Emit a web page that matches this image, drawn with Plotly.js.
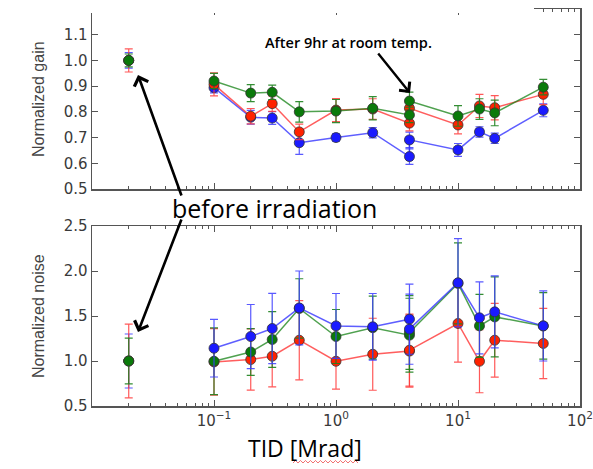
<!DOCTYPE html>
<html>
<head>
<meta charset="utf-8">
<script src="https://cdn.plot.ly/plotly-3.0.1.min.js"></script>
<style>
  html, body { margin: 0; padding: 0; background: #fff; }
  #chart { width: 593px; height: 469px; }
</style>
</head>
<body>
<div id="chart"></div>
<script>
// ---- data ----
const beforeDose = [0.02];
const dose = [0.1, 0.2, 0.3, 0.5, 1, 2, 4, 4, 10, 15, 20, 50];

const gainBeforeBlue = [1.0], gainBeforeRed = [1.0], gainBeforeGreen = [1.0];
const gainBeforeBlueErr = [0.03], gainBeforeRedErr = [0.045], gainBeforeGreenErr = [0.025];

const gainBlue  = [0.894, 0.779, 0.776, 0.680, 0.700, 0.719, 0.626, 0.691, 0.652, 0.722, 0.697, 0.806];
const gainRed   = [0.907, 0.783, 0.832, 0.722, 0.807, 0.811, 0.756, 0.814, 0.749, 0.823, 0.816, 0.868];
const gainGreen = [0.920, 0.873, 0.876, 0.800, 0.803, 0.814, 0.788, 0.842, 0.784, 0.811, 0.796, 0.896];
const gainBlueErr  = [0.020, 0.027, 0.025, 0.045, 0.015, 0.020, 0.030, 0.030, 0.025, 0.020, 0.020, 0.025];
const gainRedErr   = [0.045, 0.030, 0.030, 0.030, 0.045, 0.040, 0.030, 0.030, 0.035, 0.045, 0.047, 0.040];
const gainGreenErr = [0.030, 0.033, 0.028, 0.040, 0.045, 0.045, 0.030, 0.035, 0.040, 0.040, 0.050, 0.030];

const noiseBeforeBlue = [1.0], noiseBeforeRed = [1.0], noiseBeforeGreen = [1.0];
const noiseBeforeBlueErr = [0.30], noiseBeforeRedErr = [0.41], noiseBeforeGreenErr = [0.255];

const noiseBlue  = [1.142, 1.272, 1.361, 1.590, 1.390, 1.380, 1.465, 1.354, 1.869, 1.480, 1.546, 1.390];
const noiseRed   = [0.990, 1.016, 1.053, 1.231, 0.997, 1.075, 1.110, 1.120, 1.417, 0.997, 1.231, 1.195];
const noiseGreen = [0.997, 1.100, 1.239, 1.584, 1.272, 1.370, 1.287, 1.317, 1.862, 1.390, 1.490, 1.390];
const noiseBlueErr  = [0.32, 0.356, 0.39, 0.41, 0.36, 0.37, 0.39, 0.39, 0.49, 0.40, 0.40, 0.39];
const noiseRedErr   = [0.37, 0.34, 0.34, 0.44, 0.31, 0.40, 0.40, 0.40, 0.43, 0.35, 0.41, 0.39];
const noiseGreenErr = [0.37, 0.26, 0.31, 0.33, 0.30, 0.35, 0.41, 0.41, 0.45, 0.35, 0.445, 0.37];

const xTickVals = [0.1, 1, 10, 100];
const xTickText = ['10<sup>−1</sup>', '10<sup>0</sup>', '10<sup>1</sup>', '10<sup>2</sup>'];
const gainTickVals = [0.5, 0.6, 0.7, 0.8, 0.9, 1.0, 1.1];
const noiseTickVals = [0.5, 1.0, 1.5, 2.0, 2.5];

// ---- styling ----
const colors = {
  blue:  {m: '#1a1aff', l: 'rgba(40,40,255,0.75)', e: 'rgba(60,60,255,0.85)'},
  red:   {m: '#ff2200', l: 'rgba(255,40,40,0.75)', e: 'rgba(255,60,60,0.85)'},
  green: {m: '#0a7a0a', l: 'rgba(20,130,20,0.75)', e: 'rgba(30,130,30,0.9)'}
};

function series(x, y, err, c, xa, ya, withLine) {
  return {
    x: x, y: y, xaxis: xa, yaxis: ya, type: 'scatter',
    mode: withLine ? 'lines+markers' : 'markers',
    line: {color: c.l, width: 1.5},
    marker: {color: c.m, size: 10, line: {color: '#333', width: 0.8}},
    error_y: {type: 'data', array: err, visible: true, color: c.e, thickness: 1.2, width: 4},
    showlegend: false, hoverinfo: 'skip'
  };
}

const traces = [
  // gain panel
  series(dose, gainBlue, gainBlueErr, colors.blue, 'x', 'y', true),
  series(dose, gainRed, gainRedErr, colors.red, 'x', 'y', true),
  series(dose, gainGreen, gainGreenErr, colors.green, 'x', 'y', true),
  series(beforeDose, gainBeforeBlue, gainBeforeBlueErr, colors.blue, 'x', 'y', false),
  series(beforeDose, gainBeforeRed, gainBeforeRedErr, colors.red, 'x', 'y', false),
  series(beforeDose, gainBeforeGreen, gainBeforeGreenErr, colors.green, 'x', 'y', false),
  // noise panel
  series(dose, noiseRed, noiseRedErr, colors.red, 'x2', 'y2', true),
  series(dose, noiseGreen, noiseGreenErr, colors.green, 'x2', 'y2', true),
  series(dose, noiseBlue, noiseBlueErr, colors.blue, 'x2', 'y2', true),
  series(beforeDose, noiseBeforeBlue, noiseBeforeBlueErr, colors.blue, 'x2', 'y2', false),
  series(beforeDose, noiseBeforeRed, noiseBeforeRedErr, colors.red, 'x2', 'y2', false),
  series(beforeDose, noiseBeforeGreen, noiseBeforeGreenErr, colors.green, 'x2', 'y2', false)
];

const minorVals = [];
[0.01, 0.1, 1, 10].forEach(function (d) { for (let k = 2; k <= 9; k++) minorVals.push(d * k); });

const tickFont = {family: 'DejaVu Sans', size: 15, color: '#3a3a3a'};
const frame = {
  showline: true, linecolor: '#555', linewidth: 1.5, mirror: 'ticks',
  ticks: 'inside', ticklen: 6, tickcolor: '#555', tickwidth: 1,
  showgrid: false, zeroline: false, tickfont: tickFont
};

function logAxis(anchor, showLabels) {
  return Object.assign({}, frame, {
    type: 'log', range: [-2, 2], anchor: anchor,
    tickmode: 'array', tickvals: xTickVals, ticktext: xTickText,
    showticklabels: showLabels,
    minor: {tickmode: 'array', tickvals: minorVals, ticks: 'inside', ticklen: 3, tickcolor: '#555', showgrid: false}
  });
}

// pixel helpers for annotation placement
const L = 92, W = 488, B = 406, H = 397;
const px = X => (X - L) / W;
const py = Y => (B - Y) / H;

// spell-check squiggle under "Mrad"
let squiggle = '';
for (let i = 0, X = 293; X <= 360; i++, X += 2.5) {
  squiggle += (i === 0 ? 'M' : 'L') + px(X).toFixed(4) + ',' + py(i % 2 ? 460.5 : 463).toFixed(4) + ' ';
}

const layout = {
  width: 593, height: 469,
  margin: {l: 92, r: 13, t: 9, b: 63},
  paper_bgcolor: '#fff', plot_bgcolor: '#fff',
  xaxis: logAxis('y', false),
  xaxis2: logAxis('y2', true),
  yaxis: Object.assign({}, frame, {domain: [py(189), 1], range: [0.5, 1.2], tickmode: 'array', tickvals: gainTickVals, tickformat: '.1f', anchor: 'x'}),
  yaxis2: Object.assign({}, frame, {domain: [0, py(226)], range: [0.5, 2.5], tickmode: 'array', tickvals: noiseTickVals, tickformat: '.1f', anchor: 'x2'}),
  shapes: [
    {type: 'rect', xref: 'paper', yref: 'paper', x0: -0.2, x1: px(534), y0: py(13), y1: py(-5), fillcolor: '#fff', line: {width: 0}, layer: 'above'},
    {type: 'path', xref: 'paper', yref: 'paper', path: squiggle, line: {color: 'rgba(235,60,60,0.8)', width: 0.9}, layer: 'above'}
  ],
  annotations: [
    {xref: 'paper', yref: 'paper', x: px(138), y: py(75), ax: 44, ay: 122, axref: 'pixel', ayref: 'pixel', text: '', showarrow: true, arrowhead: 4, arrowsize: 1.1, arrowwidth: 2.6, arrowcolor: '#000', standoff: 0},
    {xref: 'paper', yref: 'paper', x: px(138), y: py(332), ax: 44, ay: -114, axref: 'pixel', ayref: 'pixel', text: '', showarrow: true, arrowhead: 4, arrowsize: 1.1, arrowwidth: 2.6, arrowcolor: '#000', standoff: 0},
    {xref: 'paper', yref: 'paper', x: px(410), y: py(93), ax: -33, ay: -41, axref: 'pixel', ayref: 'pixel', text: '', showarrow: true, arrowhead: 4, arrowsize: 1.1, arrowwidth: 2.4, arrowcolor: '#000', standoff: 0},
    {xref: 'paper', yref: 'paper', x: px(274), y: py(208), xanchor: 'center', yanchor: 'middle', text: 'before irradiation', showarrow: false,
      font: {family: 'Open Sans', size: 25, color: '#000'}},
    {xref: 'paper', yref: 'paper', x: px(348), y: py(42), xanchor: 'center', yanchor: 'middle', text: 'After 9hr at room temp.', showarrow: false,
      font: {family: 'Open Sans', size: 14.5, color: '#000', weight: 600}},
    {xref: 'paper', yref: 'paper', x: px(305), y: py(448), xanchor: 'center', yanchor: 'middle', text: 'TID [Mrad]', showarrow: false,
      font: {family: 'Open Sans', size: 23, color: '#000'}},
    {xref: 'paper', yref: 'paper', x: 0, xshift: -54, y: py(99), xanchor: 'center', yanchor: 'middle', textangle: -90, text: 'Normalized gain', showarrow: false,
      font: {family: 'Liberation Sans', size: 16, color: '#444'}},
    {xref: 'paper', yref: 'paper', x: 0, xshift: -54, y: py(316), xanchor: 'center', yanchor: 'middle', textangle: -90, text: 'Normalized noise', showarrow: false,
      font: {family: 'Liberation Sans', size: 16, color: '#444'}}
  ]
};

Plotly.newPlot('chart', traces, layout, {displayModeBar: false, staticPlot: true});
</script>
</body>
</html>
